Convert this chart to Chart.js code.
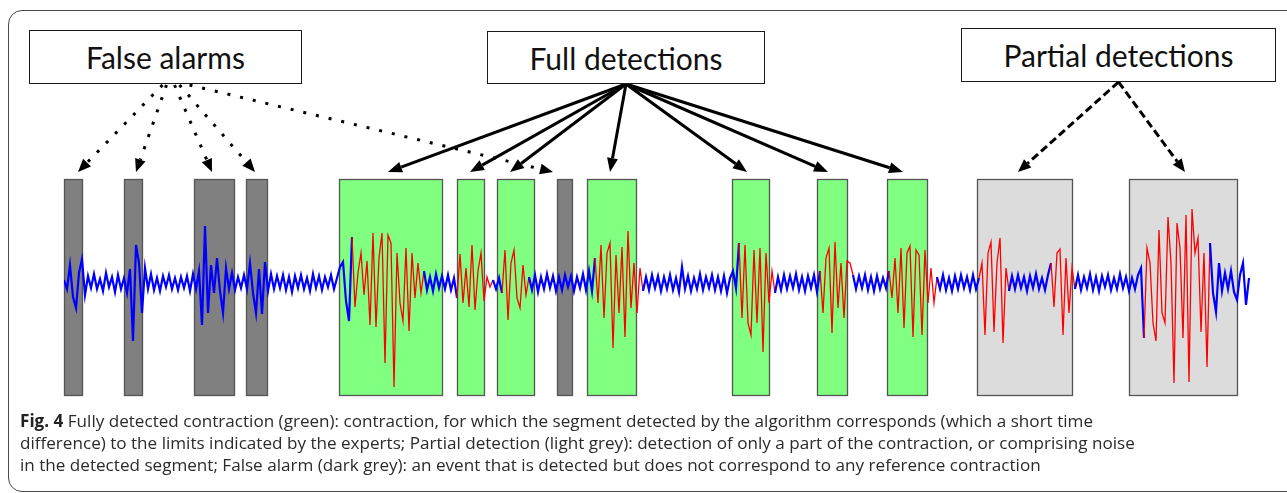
<!DOCTYPE html>
<html>
<head>
<meta charset="utf-8">
<script src="https://cdn.jsdelivr.net/npm/chart.js@4"></script>
<style>
  html, body { margin: 0; padding: 0; background: #fff; }
  body { width: 1287px; height: 493px; position: relative; overflow: hidden; }
  #frame {
    position: absolute; left: 8px; top: 10px; width: 1300px; height: 480px;
    border: 1.5px solid #4a4a4a; border-radius: 14px;
  }
  #chart { position: absolute; left: 0; top: 0; }
  .label {
    position: absolute; box-sizing: border-box; background: #fff;
    border: 1.5px solid #1a1a1a; font-family: Lato, sans-serif; font-size: 30px;
    color: #111; display: flex; align-items: center; justify-content: center;
  }
  #lab-false { left: 29px; top: 30px; width: 273px; height: 54px; }
  #lab-full { left: 487px; top: 31px; width: 278px; height: 53px; }
  #lab-partial { left: 961px; top: 28px; width: 315px; height: 54px; }
  #caption {
    position: absolute; left: 20px; top: 410px; width: 1260px;
    font-family: "Open Sans", sans-serif; font-size: 17.1px; line-height: 22px; color: #2b2b2b;
  }
  #caption b { color: #222; }
</style>
</head>
<body>
<div id="frame"></div>
<canvas id="chart" width="1287" height="493"></canvas>
<div class="label" id="lab-false">False alarms</div>
<div class="label" id="lab-full">Full detections</div>
<div class="label" id="lab-partial">Partial detections</div>
<div id="caption"><b>Fig. 4</b> Fully detected contraction (green): contraction, for which the segment detected by the algorithm corresponds (which a short time<br>difference) to the limits indicated by the experts; Partial detection (light grey): detection of only a part of the contraction, or comprising noise<br>in the detected segment; False alarm (dark grey): an event that is detected but does not correspond to any reference contraction</div>
<script>
// time axis: one sample every 3 units
const SAMPLE_STEP = 3;
const X_MAX = 1186;
const Y_MIN = -112;
const Y_MAX = 104;

// EHG signal amplitude (arbitrary units, baseline 0)
const signal = [
  3, -6, 18, -14, -25, 10, 24, -12, 7, -5, 9, -6, 4, -8, 10, -4, 6, -9, 8, -6,
  5, -10, 14, -58, 38, 20, -30, 15, -6, 9, -7, 5, -8, 7, -4, 8, -6, 5, -7, 6,
  -5, 7, -8, 9, -6, 12, -42, 57, -30, 18, -10, 25, -8, -30, 15, -6, 10, -7, 6, -5,
  8, -6, 20, -10, -30, 14, -31, 21, -8, 9, -6, 7, -5, 8, -7, 6, -9, 7, -5, 8,
  -6, 5, -8, 9, -5, 7, -7, 6, -4, 8, -6, 5, 16, 21, -18, -38, 46, -24, 10, 30,
  -12, 22, -42, 50, -44, 25, 50, -80, 48, 40, -104, 30, -20, -38, 35, -48, 30, -15, 20, -10,
  12, -7, 6, -8, 9, -5, 7, -6, 8, -7, 5, -15, 29, -20, 15, -24, 38, -27, 12, 30,
  -18, 6, -4, 3, -6, 5, -10, 33, -37, 20, 33, -15, -25, 18, -12, 6, -7, 8, -9, 6,
  -6, 9, -5, 7, -8, 6, -7, 8, -4, 7, -8, 6, -5, 9, -7, 12, -8, 25, -20, 38,
  -35, 30, 40, -65, 28, -30, 36, -54, 52, -25, 20, -30, 15, -8, 6, -7, 8, -5, 7, -8,
  6, -6, 8, -7, 5, -9, 16, -6, 7, -8, 5, -6, 9, -7, 6, -5, 8, -7, 6, -8,
  7, -10, 5, 12, -5, 40, -35, 38, -40, -52, 33, -40, 35, -69, 30, -20, 12, -10, 6, -7,
  8, -6, 7, -5, 9, -7, 6, -8, 7, -5, 8, -9, 12, -30, 25, 35, -50, 41, -25, 20,
  -35, 22, 20, 8, -6, 7, -5, 8, -7, 6, -8, 7, -6, 5, -5, 12, -15, 25, -30, 35,
  -45, 30, 37, -54, 33, 28, -52, 33, -20, 15, -20, 6, -6, 8, -7, 5, -8, 7, -6, 8,
  -5, 6, -7, 8, -6, 5, 20, -52, 30, 41, -49, 20, 45, -60, 15, -8, 7, -6, 8, -5,
  6, -8, 7, -5, 9, -6, 5, -7, 8, 20, -24, 30, 34, -52, 25, -30, 15, -6, 8, -7,
  6, -5, 9, -7, 6, -8, 7, -4, 8, -7, 5, -6, 9, -5, 6, -8, 5, -6, 8, 15,
  -55, 35, 20, -40, -58, 53, -30, -40, 66, 20, -100, 60, 35, -55, 68, -99, 74, 30, 45, -49,
  30, -84, 40, -10, -29, 20, -8, 10, -6, 12, -9, -17, 8, 20, -22, 5
];

// parts of the trace that belong to a contraction (drawn red)
const contractionSpans = [
  [286, 358], [391, 428], [438, 464], [529, 578], [673, 709],
  [756, 789], [824, 873], [915, 943], [986, 1009], [1079, 1146]
];

// detected segments
const falseAlarms = [[0, 18], [60, 78], [130, 170], [182, 203], [493, 508]];
const fullDetections = [[275, 378], [393, 420], [433, 470], [523, 572], [668, 705], [753, 783], [823, 863]];
const partialDetections = [[913, 1008], [1065, 1173]];

// where each callout arrow lands (time units)
const falseArrowTargets = [14, 72, 148, 191, 489];
const fullArrowTargets = [324, 406, 446, 546, 683, 764, 839];
const partialArrowTargets = [954, 1121];

const RED = "#ff0000";
const BLUE = "#0000ff";

function inContraction(t) {
  return contractionSpans.some((s) => t >= s[0] && t < s[1]);
}

const segmentsPlugin = {
  id: "segments",
  beforeDatasetsDraw(chart) {
    const ctx = chart.ctx;
    const xs = chart.scales.x;
    const ys = chart.scales.y;
    const top = ys.getPixelForValue(Y_MAX);
    const bottom = ys.getPixelForValue(Y_MIN);
    const groups = [
      [falseAlarms, "#808080"],
      [fullDetections, "#80ff80"],
      [partialDetections, "#dcdcdc"],
    ];
    ctx.save();
    for (const [list, color] of groups) {
      for (const s of list) {
        const x0 = Math.round(xs.getPixelForValue(s[0])) + 0.5;
        const x1 = Math.round(xs.getPixelForValue(s[1])) + 0.5;
        ctx.fillStyle = color;
        ctx.fillRect(x0, top, x1 - x0, bottom - top);
        ctx.strokeStyle = "#555555";
        ctx.lineWidth = 1.3;
        ctx.strokeRect(x0, Math.round(top) + 0.5, x1 - x0, Math.round(bottom - top));
      }
    }
    ctx.restore();
  },
};

function drawArrow(ctx, x0, y0, x1, y1, dash, headLen, headW) {
  const ang = Math.atan2(y1 - y0, x1 - x0);
  const bx = x1 - headLen * Math.cos(ang);
  const by = y1 - headLen * Math.sin(ang);
  ctx.beginPath();
  ctx.setLineDash(dash);
  ctx.moveTo(x0, y0);
  ctx.lineTo(bx, by);
  ctx.stroke();
  ctx.setLineDash([]);
  ctx.beginPath();
  ctx.moveTo(x1, y1);
  ctx.lineTo(bx + headW / 2 * Math.sin(ang), by - headW / 2 * Math.cos(ang));
  ctx.lineTo(bx - headW / 2 * Math.sin(ang), by + headW / 2 * Math.cos(ang));
  ctx.closePath();
  ctx.fill();
}

function boxAnchor(id) {
  const el = document.getElementById(id);
  return { x: el.offsetLeft + el.offsetWidth / 2, y: el.offsetTop + el.offsetHeight };
}

const arrowsPlugin = {
  id: "arrows",
  afterDraw(chart) {
    const ctx = chart.ctx;
    const xs = chart.scales.x;
    const tipY = chart.scales.y.getPixelForValue(Y_MAX) - 7;
    ctx.save();
    ctx.strokeStyle = "#000";
    ctx.fillStyle = "#000";
    ctx.lineCap = "butt";

    const fa = boxAnchor("lab-false");
    const faOffsets = [-3, 1, 9, 14, 24];
    ctx.lineWidth = 3;
    falseArrowTargets.forEach((t, i) => {
      drawArrow(ctx, fa.x + faOffsets[i], fa.y + 1, xs.getPixelForValue(t), tipY, [3, 10], 13, 11);
    });

    const fu = boxAnchor("lab-full");
    ctx.lineWidth = 3;
    fullArrowTargets.forEach((t) => {
      drawArrow(ctx, fu.x, fu.y, xs.getPixelForValue(t), tipY, [], 14, 11);
    });

    const pa = boxAnchor("lab-partial");
    ctx.lineWidth = 3;
    partialArrowTargets.forEach((t) => {
      drawArrow(ctx, pa.x, pa.y, xs.getPixelForValue(t), tipY, [8, 4], 13, 11);
    });
    ctx.restore();
  },
};

new Chart(document.getElementById("chart").getContext("2d"), {
  type: "line",
  data: {
    datasets: [
      {
        data: signal.map((v, i) => ({ x: i * SAMPLE_STEP, y: v })),
        borderColor: BLUE,
        borderWidth: 2,
        pointRadius: 0,
        tension: 0,
        segment: {
          borderColor: (c) => (inContraction(c.p0.parsed.x) ? RED : BLUE),
          borderWidth: (c) => (inContraction(c.p0.parsed.x) ? 1.3 : 2.2),
        },
      },
    ],
  },
  options: {
    responsive: false,
    animation: false,
    events: [],
    layout: { padding: { left: 64, right: 37, top: 179, bottom: 98 } },
    plugins: { legend: { display: false }, tooltip: { enabled: false } },
    scales: {
      x: { type: "linear", min: 0, max: X_MAX, display: false },
      y: { min: Y_MIN, max: Y_MAX, display: false },
    },
  },
  plugins: [segmentsPlugin, arrowsPlugin],
});
</script>
</body>
</html>
